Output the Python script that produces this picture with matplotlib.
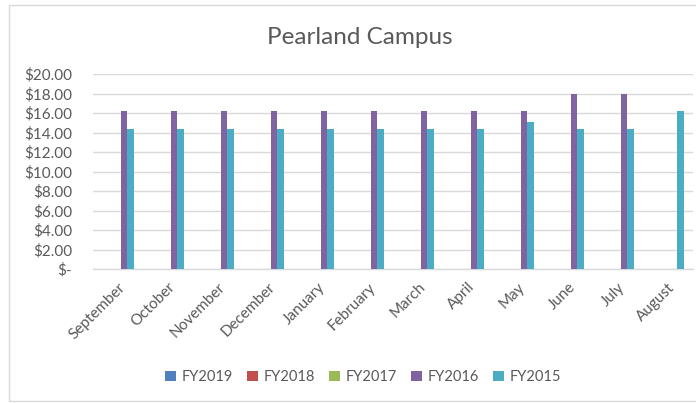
import numpy as np
import matplotlib
matplotlib.use("Agg")
import matplotlib.pyplot as plt
from matplotlib.patches import Rectangle
from matplotlib.ticker import FuncFormatter

months = ["September", "October", "November", "December", "January", "February",
          "March", "April", "May", "June", "July", "August"]
series_names = ["FY2019", "FY2018", "FY2017", "FY2016", "FY2015"]
fy2019 = [0] * 12
fy2018 = [0] * 12
fy2017 = [0] * 12
fy2016 = [16.25, 16.25, 16.25, 16.25, 16.25, 16.25, 16.25, 16.25, 16.25, 18.00, 18.00, 0]
fy2015 = [14.40, 14.40, 14.40, 14.40, 14.40, 14.40, 14.40, 14.40, 15.10, 14.40, 14.40, 16.25]
colors = ["#4F81BD", "#C0504D", "#9BBB59", "#8064A2", "#4BACC6"]

plt.rcParams['font.family'] = ['Lato', 'DejaVu Sans']
text_color = "#595959"
grid_color = "#d9d9d9"

fig = plt.figure(figsize=(6.96, 4.03), dpi=100)
# thin grey chart border, like the Excel chart area
fig.patches.append(Rectangle((9 / 696, 2 / 403), 1.0, 396 / 403, transform=fig.transFigure,
                             fill=False, edgecolor=grid_color, linewidth=1.0))

ax = fig.add_axes([93 / 696, 134 / 403, 600 / 696, 195 / 403])
x = np.arange(len(months))
bw = 0.126
all_series = [fy2019, fy2018, fy2017, fy2016, fy2015]
for i, (name, vals) in enumerate(zip(series_names, all_series)):
    ax.bar(x + (i - 2) * bw, vals, width=bw, color=colors[i], label=name, zorder=3)

ax.set_xlim(-0.5, len(months) - 0.5)
ax.set_ylim(0, 20)
ax.set_yticks(np.arange(0, 21, 2))
ax.yaxis.set_major_formatter(FuncFormatter(lambda v, p: "$-" if v == 0 else f"${v:.2f}"))
ax.grid(axis='y', color=grid_color, linewidth=1.0, zorder=0)
for s in ["top", "right", "left"]:
    ax.spines[s].set_visible(False)
ax.spines["bottom"].set_color(grid_color)
ax.spines["bottom"].set_linewidth(1.0)
ax.set_xticks(x)
ax.set_xticklabels(months, rotation=45, ha='right', rotation_mode='anchor')
ax.tick_params(axis='x', length=0, colors=text_color, labelsize=11, pad=8)
ax.tick_params(axis='y', length=0, colors=text_color, labelsize=11, pad=15)

fig.text(360 / 696, 1 - 37 / 403, "Pearland Campus", ha='center', va='center',
         fontsize=17.5, color=text_color)

fig.legend(loc='center', bbox_to_anchor=(363 / 696, 26 / 403), ncol=5, frameon=False,
           fontsize=10.5, handlelength=0.75, handleheight=0.75, columnspacing=1.0,
           handletextpad=0.35, labelcolor=text_color)

fig.savefig("out.png", dpi=100)
